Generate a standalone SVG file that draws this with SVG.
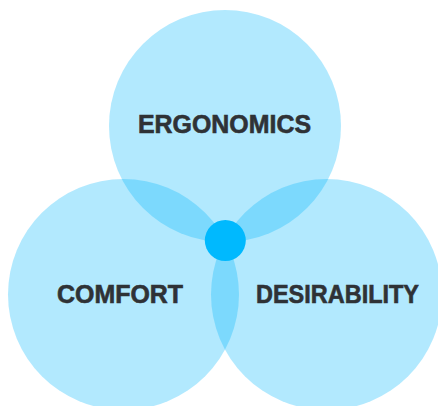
<svg xmlns="http://www.w3.org/2000/svg" width="438" height="406" viewBox="0 0 438 406">
<style>
.c{fill:#00b6fd;fill-opacity:0.3}
.t{font-family:"Liberation Sans",Arial,sans-serif;font-weight:700;font-size:25px;fill:#2f3236;stroke:#2f3236;stroke-width:0.6;text-anchor:middle}
</style>
<rect width="438" height="406" fill="#ffffff"/>
<g id="ergonomics">
<circle class="c" cx="225" cy="126" r="116"/>
<text class="t" x="224.5" y="133" textLength="173" lengthAdjust="spacingAndGlyphs">ERGONOMICS</text>
</g>
<g id="comfort">
<circle class="c" cx="123.5" cy="294.5" r="115.5"/>
<text class="t" x="120" y="303" textLength="126" lengthAdjust="spacingAndGlyphs">COMFORT</text>
</g>
<g id="desirability">
<circle class="c" cx="326.5" cy="294.5" r="115.5"/>
<text class="t" x="337.5" y="303" textLength="163" lengthAdjust="spacingAndGlyphs">DESIRABILITY</text>
</g>
<g id="center">
<circle cx="225.3" cy="240.5" r="20.5" fill="#00b9fe"/>
</g>
</svg>
